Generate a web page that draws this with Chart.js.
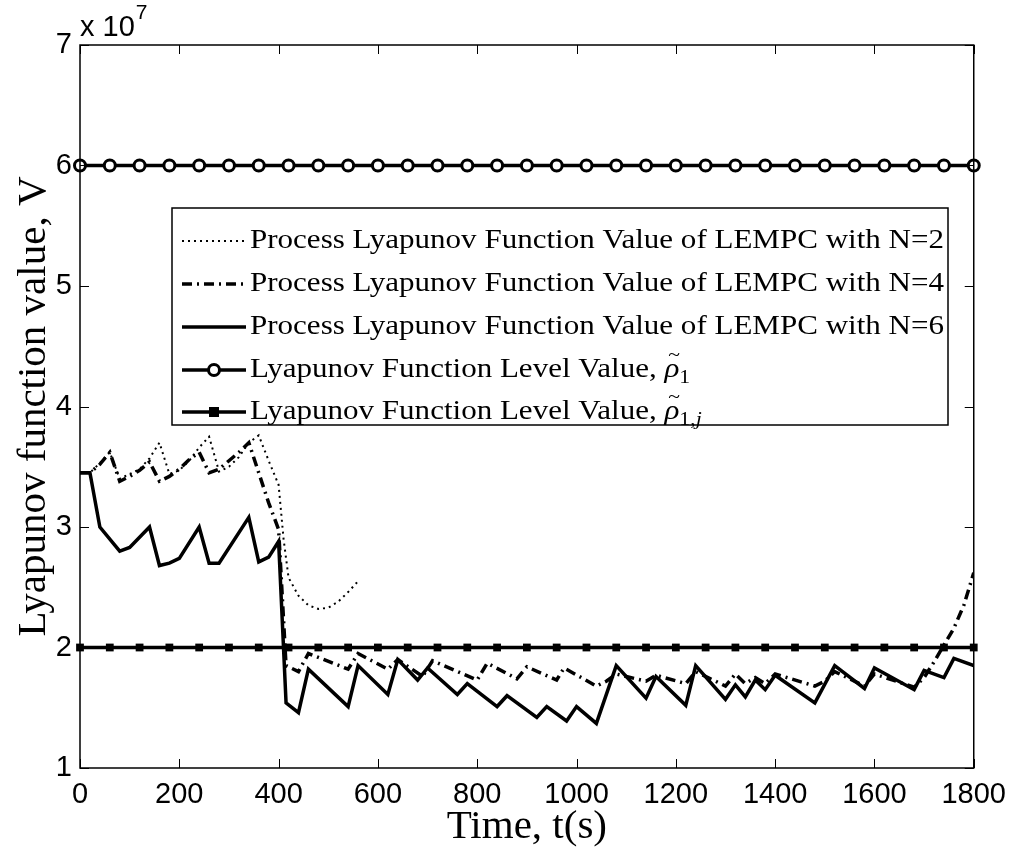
<!DOCTYPE html>
<html><head><meta charset="utf-8">
<script src="https://cdn.jsdelivr.net/npm/chart.js@4.4.0/dist/chart.umd.min.js"></script>
<style>html,body{margin:0;padding:0;background:#fff;}#wrap{width:1016px;height:852px;position:relative;}</style>
</head><body><div id="wrap"><canvas id="c" width="1016" height="852"></canvas></div>
<script>
// ---- data (values in units of 10^7) ----
const xTicks = [0,200,400,600,800,1000,1200,1400,1600,1800];
const yTicks = [1,2,3,4,5,6,7];
const yExponent = '7';

const tN2 = [0,20,40,60,80,100,120,140,160,180,200,220,240,260,280,300,320,340,360,380,400,410,420,440,460,480,500,520,540,560];
const vN2 = [3.45,3.45,3.53,3.62,3.40,3.44,3.48,3.57,3.70,3.44,3.47,3.55,3.66,3.75,3.46,3.50,3.58,3.70,3.76,3.55,3.35,2.90,2.58,2.43,2.35,2.32,2.33,2.38,2.46,2.55];

const tN4 = [0,20,40,60,80,100,120,140,160,180,200,220,240,260,280,300,320,340,360,380,400,415,440,460,540,560,620,640,690,710,800,820,880,900,960,975,1040,1060,1080,1140,1160,1220,1240,1300,1320,1340,1360,1380,1400,1480,1500,1520,1580,1600,1680,1700,1720,1740,1760,1780,1800];
const vN4 = [3.45,3.45,3.52,3.62,3.38,3.42,3.47,3.54,3.38,3.42,3.48,3.56,3.62,3.45,3.48,3.55,3.62,3.70,3.45,3.20,2.98,1.85,1.80,1.95,1.82,1.95,1.82,1.90,1.76,1.89,1.73,1.87,1.74,1.84,1.73,1.83,1.68,1.72,1.78,1.72,1.77,1.70,1.80,1.68,1.78,1.70,1.75,1.70,1.78,1.68,1.72,1.80,1.68,1.78,1.67,1.75,1.88,2.02,2.16,2.35,2.62];

const tN6 = [0,20,40,80,100,140,160,180,200,240,260,280,340,360,380,400,415,440,460,540,560,620,640,680,700,760,780,840,860,920,940,980,1000,1040,1080,1140,1160,1220,1240,1300,1320,1340,1360,1380,1400,1480,1520,1580,1600,1680,1700,1740,1760,1800];
const vN6 = [3.45,3.45,3.00,2.80,2.83,3.00,2.68,2.70,2.74,3.00,2.70,2.70,3.08,2.71,2.75,2.88,1.54,1.46,1.82,1.51,1.85,1.61,1.90,1.73,1.83,1.61,1.70,1.51,1.60,1.42,1.51,1.39,1.51,1.37,1.85,1.58,1.76,1.52,1.85,1.57,1.69,1.59,1.73,1.65,1.77,1.54,1.85,1.66,1.83,1.65,1.81,1.75,1.91,1.85];

const markerTimes = [0,60,120,180,240,300,360,420,480,540,600,660,720,780,840,900,960,1020,1080,1140,1200,1260,1320,1380,1440,1500,1560,1620,1680,1740,1800];
const rho1Level = 6;
const rho1jLevel = 2;

const legendLabels = [
  [{t:'Process Lyapunov Function Value of LEMPC with N=2'}],
  [{t:'Process Lyapunov Function Value of LEMPC with N=4'}],
  [{t:'Process Lyapunov Function Value of LEMPC with N=6'}],
  [{t:'Lyapunov Function Level Value, '},{t:'\u03C1',it:true,tilde:true},{t:'1',sub:true}],
  [{t:'Lyapunov Function Level Value, '},{t:'\u03C1',it:true,tilde:true},{t:'1,',sub:true},{t:'j',sub:true,it:true}]
];
const xTitle = 'Time, t(s)';
const yTitle = 'Lyapunov function value, V';

// ---- helpers ----
const toXY = (ts, vs) => ts.map((t, i) => ({x: t, y: vs[i]}));
const levelXY = (ts, lv) => ts.map(t => ({x: t, y: lv}));

const SERIF = '"Liberation Serif", "Times New Roman", serif';
const SANS = '"Liberation Sans", Arial, sans-serif';

function drawRich(ctx, parts, size) {
  let x = 0;
  for (const p of parts) {
    const fs = p.sub ? size * 0.7 : size;
    ctx.font = (p.it ? 'italic ' : '') + fs + 'px ' + SERIF;
    const dy = p.sub ? size * 0.28 : 0;
    ctx.fillText(p.t, x, dy);
    const w = ctx.measureText(p.t).width;
    if (p.tilde) {
      ctx.font = (size * 0.7) + 'px ' + SERIF;
      const tw = ctx.measureText('~').width;
      ctx.fillText('~', x + w / 2 - tw / 2 + 2, dy - size * 0.5);
    }
    x += w;
  }
  return x;
}

const decor = {
  id: 'decor',
  afterDatasetsDraw(chart) {
    const ctx = chart.ctx;
    const L = {x: 172, y: 208, w: 776, h: 217};
    ctx.save();
    ctx.fillStyle = '#fff';
    ctx.fillRect(L.x, L.y, L.w, L.h);
    ctx.strokeStyle = '#000';
    ctx.lineWidth = 1.5;
    ctx.strokeRect(L.x, L.y, L.w, L.h);
    const rows = [241, 284, 327, 370, 412];
    const styles = [
      {w: 2, dash: [2, 4]},
      {w: 3.5, dash: [10, 5, 2, 5]},
      {w: 3.5, dash: []},
      {w: 3.5, dash: [], m: 'circle'},
      {w: 3.5, dash: [], m: 'rect'}
    ];
    const size = 28;
    ctx.font = size + 'px ' + SERIF;
    const target = 694;
    const sx = target / ctx.measureText(legendLabels[0][0].t).width;
    rows.forEach((ry, i) => {
      const s = styles[i];
      ctx.beginPath();
      ctx.setLineDash(s.dash);
      ctx.lineWidth = s.w;
      ctx.moveTo(182, ry);
      ctx.lineTo(246, ry);
      ctx.stroke();
      ctx.setLineDash([]);
      if (s.m === 'circle') {
        ctx.beginPath();
        ctx.arc(214, ry, 5.5, 0, Math.PI * 2);
        ctx.fillStyle = '#fff';
        ctx.fill();
        ctx.lineWidth = 3;
        ctx.stroke();
      } else if (s.m === 'rect') {
        ctx.fillStyle = '#000';
        ctx.fillRect(209, ry - 5, 10, 10);
      }
      ctx.fillStyle = '#000';
      ctx.textBaseline = 'middle';
      ctx.textAlign = 'left';
      ctx.save();
      ctx.translate(250, ry);
      ctx.scale(sx, 1);
      drawRich(ctx, legendLabels[i], size);
      ctx.restore();
    });
    ctx.restore();
  },
  afterDraw(chart) {
    const ctx = chart.ctx;
    const a = chart.chartArea;
    const xs = chart.scales.x, ys = chart.scales.y;
    ctx.save();
    ctx.strokeStyle = '#000';
    ctx.lineWidth = 1.5;
    ctx.setLineDash([]);
    ctx.strokeRect(a.left, a.top, a.right - a.left, a.bottom - a.top);
    ctx.lineWidth = 1;
    ctx.beginPath();
    const tl = 9;
    xTicks.forEach(v => {
      const px = Math.round(xs.getPixelForValue(v)) + 0.5;
      ctx.moveTo(px, a.bottom); ctx.lineTo(px, a.bottom - tl);
      ctx.moveTo(px, a.top); ctx.lineTo(px, a.top + tl);
    });
    yTicks.forEach(v => {
      const py = Math.round(ys.getPixelForValue(v)) + 0.5;
      ctx.moveTo(a.left, py); ctx.lineTo(a.left + tl, py);
      ctx.moveTo(a.right, py); ctx.lineTo(a.right - tl, py);
    });
    ctx.stroke();
    ctx.fillStyle = '#000';
    ctx.textAlign = 'left';
    ctx.textBaseline = 'alphabetic';
    ctx.font = '29px ' + SANS;
    const base = 'x 10';
    ctx.fillText(base, a.left, 36);
    const w = ctx.measureText(base).width;
    ctx.font = '21px ' + SANS;
    ctx.fillText(yExponent, a.left + w + 1, 19);
    ctx.restore();
  }
};

new Chart(document.getElementById('c'), {
  type: 'line',
  data: {
    datasets: [
      {label: 'N=2', data: toXY(tN2, vN2), borderColor: '#000', borderWidth: 2, borderDash: [2, 4], pointRadius: 0, tension: 0, fill: false},
      {label: 'N=4', data: toXY(tN4, vN4), borderColor: '#000', borderWidth: 3.5, borderDash: [10, 5, 2, 5], pointRadius: 0, tension: 0, fill: false},
      {label: 'N=6', data: toXY(tN6, vN6), borderColor: '#000', borderWidth: 3.5, pointRadius: 0, tension: 0, fill: false},
      {label: 'rho1', data: levelXY(markerTimes, rho1Level), borderColor: '#000', borderWidth: 3.5, pointStyle: 'circle', pointRadius: 5.5, pointBorderWidth: 3, pointBackgroundColor: '#fff', pointBorderColor: '#000', tension: 0, fill: false, clip: false},
      {label: 'rho1j', data: levelXY(markerTimes, rho1jLevel), borderColor: '#000', borderWidth: 3.5, pointStyle: 'rect', pointRadius: 5.5, pointBorderWidth: 0, pointBackgroundColor: '#000', pointBorderColor: '#000', tension: 0, fill: false, clip: false}
    ]
  },
  options: {
    responsive: false,
    animation: false,
    devicePixelRatio: 1,
    layout: {padding: {top: 45, right: 41, left: 0, bottom: 0}},
    plugins: {legend: {display: false}, tooltip: {enabled: false}},
    scales: {
      x: {
        type: 'linear', min: 0, max: 1800,
        afterBuildTicks: s => { s.ticks = xTicks.map(v => ({value: v})); },
        afterFit: s => { s.height = 84; },
        grid: {display: false, drawTicks: false},
        border: {display: false},
        ticks: {color: '#000', font: {family: SANS, size: 29}, padding: 10, maxRotation: 0, callback: v => String(v)},
        title: {display: true, text: xTitle, color: '#000', font: {family: SERIF, size: 41}, padding: {top: 0, bottom: 0}}
      },
      y: {
        type: 'linear', min: 1, max: 7,
        afterBuildTicks: s => { s.ticks = yTicks.map(v => ({value: v})); },
        afterFit: s => { s.width = 80; },
        grid: {display: false, drawTicks: false},
        border: {display: false},
        ticks: {color: '#000', font: {family: SANS, size: 29}, padding: 8, callback: v => String(v)},
        title: {display: true, text: yTitle, color: '#000', font: {family: SERIF, size: 41}, padding: {top: 10, bottom: 0}}
      }
    }
  },
  plugins: [decor]
});
</script></body></html>
